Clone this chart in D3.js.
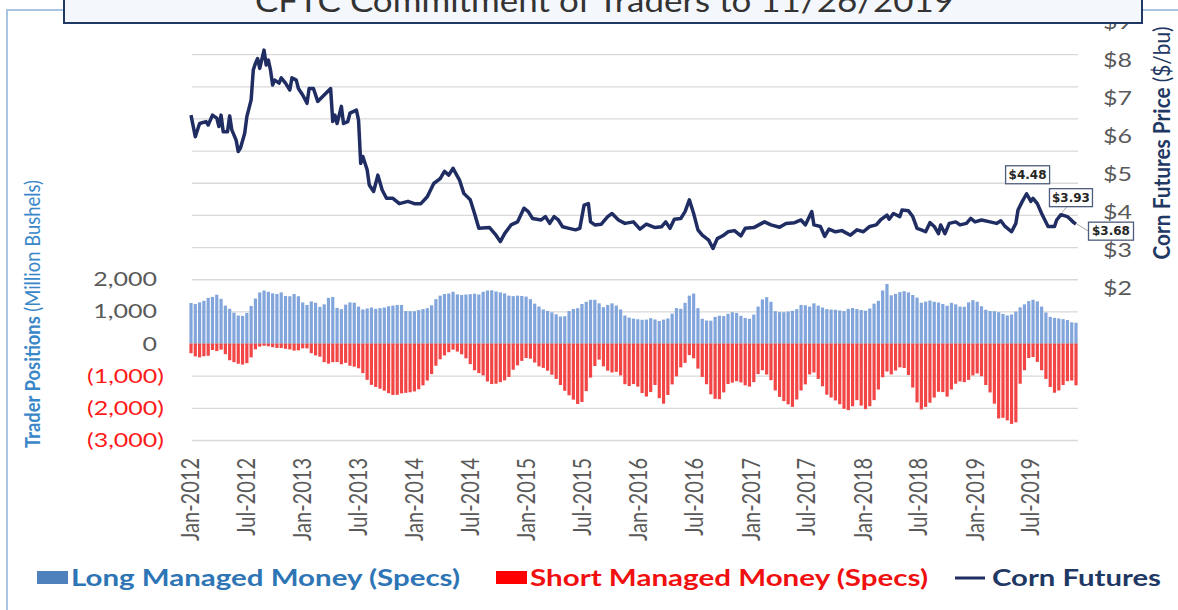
<!DOCTYPE html>
<html>
<head>
<meta charset="utf-8">
<script src="https://cdn.jsdelivr.net/npm/d3@7"></script>
<style>
  body { margin: 0; background: #fff; }
  svg { display: block; font-family: Lato, "Open Sans", sans-serif; }
</style>
</head>
<body>
<svg width="1178" height="610"></svg>
<script>
// ---- data ----
const title = "CFTC Commitment of Traders to 11/26/2019";
const firstReport = "2012-01-03";   // bars: one every 2 weeks from here
const lastReport = "2019-11-26";

// managed money long / short, million bushels
const longMM = [1260,1230,1280,1330,1420,1450,1520,1390,1180,1080,
  960,870,860,950,1170,1400,1590,1650,1610,1560,
  1540,1590,1480,1470,1540,1470,1280,1200,1310,1270,
  1140,1220,1420,1450,1110,1070,1210,1280,1270,1150,
  1060,1090,1120,1080,1100,1120,1160,1180,1200,1200,
  1010,1005,1005,1040,1070,1100,1190,1380,1490,1540,
  1555,1610,1530,1510,1524,1535,1550,1524,1610,1650,
  1655,1620,1590,1560,1490,1475,1490,1480,1460,1380,
  1240,1150,1060,1015,970,910,840,850,1010,1075,
  1100,1230,1300,1360,1360,1250,1130,1200,1250,1180,
  1060,870,805,775,755,740,745,790,750,700,
  745,780,930,1100,1080,1266,1490,1555,1100,770,
  715,710,830,865,855,925,974,950,860,797,
  770,900,1150,1370,1440,1300,1005,976,974,995,
  1020,1070,1200,1190,1150,1250,1180,1120,1070,1057,
  1050,1030,1010,1078,1105,1070,1045,1020,1090,1240,
  1330,1650,1850,1500,1545,1600,1627,1590,1510,1430,
  1270,1305,1337,1300,1275,1230,1175,1266,1220,1150,
  1145,1280,1350,1300,1160,1050,1010,1005,975,920,
  875,905,995,1125,1220,1320,1360,1310,1150,965,
  830,798,780,760,730,660,645];

const shortMM = [-300,-400,-430,-394,-380,-200,-235,-190,-330,-520,
  -580,-630,-653,-610,-430,-180,-95,-70,-85,-115,
  -135,-140,-165,-183,-220,-210,-150,-150,-300,-370,
  -410,-580,-625,-580,-575,-645,-601,-690,-720,-770,
  -920,-1130,-1285,-1350,-1405,-1465,-1545,-1600,-1595,-1550,
  -1533,-1515,-1490,-1420,-1300,-1150,-950,-690,-490,-370,
  -270,-190,-250,-335,-460,-640,-830,-920,-990,-1180,
  -1260,-1250,-1200,-1145,-1040,-815,-680,-540,-450,-470,
  -590,-710,-757,-845,-970,-1100,-1290,-1470,-1610,-1745,
  -1880,-1820,-1480,-1060,-700,-500,-710,-845,-900,-880,
  -990,-1265,-1320,-1260,-1340,-1540,-1650,-1510,-1290,-1700,
  -1870,-1600,-1270,-1020,-740,-601,-360,-460,-780,-1040,
  -1265,-1580,-1720,-1730,-1520,-1260,-1215,-1172,-1210,-1300,
  -1340,-1200,-950,-830,-964,-1140,-1460,-1660,-1790,-1890,
  -1970,-1740,-1460,-1270,-960,-900,-1100,-1330,-1590,-1680,
  -1770,-1890,-2030,-2070,-1950,-1760,-1930,-2040,-1950,-1760,
  -1430,-1050,-870,-960,-840,-740,-760,-980,-1370,-1830,
  -2050,-1970,-1840,-1680,-1500,-1510,-1650,-1430,-1250,-1180,
  -1200,-1130,-990,-930,-1016,-1290,-1520,-1870,-2330,-2310,
  -2390,-2500,-2450,-1250,-830,-450,-420,-570,-830,-1100,
  -1350,-1530,-1460,-1290,-1170,-1150,-1300];

// corn futures, $/bu: weeks after firstReport and price
const priceWeek = [0,2,4,7,8,10,12,13,14,15,17,18,19,21,22,23,25,26,28,29,
  30,31,32,34,35,36,37,38,39,41,42,44,46,47,49,50,52,54,55,57,
  59,62,65,66,67,68,70,71,73,74,77,78,79,80,82,83,85,87,89,91,
  94,97,101,104,107,110,113,116,118,120,122,125,127,130,132,134,139,142,144,146,
  149,152,155,157,159,163,165,167,169,171,173,176,179,181,183,185,186,188,191,194,
  196,199,202,206,209,212,216,219,221,223,225,228,230,232,234,236,238,241,243,245,
  248,250,253,256,258,262,265,267,270,274,277,281,284,286,289,290,293,295,297,300,
  303,307,310,313,316,319,321,324,325,327,330,331,334,336,338,340,342,344,346,348,
  349,351,353,356,358,361,363,365,368,372,375,377,379,382,384,385,387,389,391,392,
  394,396,399,402,403,405,408,411,412];
const priceValue = [6.55,5.98,6.33,6.38,6.29,6.55,6.47,6.25,6.55,6.11,6.11,6.53,6.16,5.89,5.59,5.68,6.07,6.51,6.95,7.74,
  7.91,8.04,7.78,8.26,7.87,8.00,7.74,7.34,7.47,7.39,7.53,7.39,7.21,7.53,7.47,7.25,7.08,6.86,7.25,7.25,
  6.91,7.08,7.25,6.38,6.55,6.33,6.78,6.33,6.38,6.60,6.68,6.42,5.28,5.46,5.11,4.71,4.54,4.97,4.58,4.36,
  4.36,4.22,4.28,4.22,4.22,4.40,4.75,4.88,5.07,4.97,5.15,4.84,4.49,4.32,3.96,3.57,3.59,3.39,3.22,3.43,
  3.66,3.74,4.10,4.01,3.83,3.79,3.88,3.70,3.88,3.79,3.61,3.57,3.53,3.57,4.18,4.22,3.74,3.66,3.68,3.88,
  3.96,3.79,3.70,3.74,3.55,3.68,3.59,3.61,3.74,3.57,3.81,3.83,4.01,4.32,3.96,3.53,3.39,3.26,3.04,3.30,
  3.39,3.48,3.51,3.37,3.57,3.59,3.68,3.74,3.66,3.60,3.70,3.72,3.79,3.66,4.01,3.66,3.62,3.36,3.55,3.48,
  3.51,3.39,3.53,3.48,3.62,3.66,3.79,3.92,3.81,3.96,3.88,4.05,4.03,3.88,3.57,3.53,3.48,3.72,3.62,3.43,
  3.66,3.43,3.70,3.74,3.66,3.70,3.83,3.74,3.79,3.74,3.70,3.77,3.62,3.48,3.70,4.05,4.28,4.48,4.28,4.36,
  4.22,3.96,3.62,3.62,3.79,3.93,3.88,3.72,3.68];

const noteWeek = [389, 405, 412];
const noteText = ["$4.48", "$3.93", "$3.68"];

const positionTicks = [-3000, -2000, -1000, 0, 1000, 2000];
const priceTicks = [2, 3, 4, 5, 6, 7, 8, 9];

// ---- layout ----
const svg = d3.select("svg");
const SX = 1.25;   // the picture is stretched sideways
const gray = "#595959", navy = "#1f2d63";

const parse = d3.timeParse("%Y-%m-%d");
const start = parse(firstReport);
const x = d3.scaleTime().domain([start, parse(lastReport)]).range([191, 1076]);
const yPos = d3.scaleLinear().domain([-3000, 10000]).range([440, 22]);
const yPrice = d3.scaleLinear().domain([-2, 9]).range([440, 22]);

// outer frame
svg.append("rect").attr("x", 7).attr("y", 10).attr("width", 1190).attr("height", 640)
  .attr("fill", "none").attr("stroke", "#a9c5e3").attr("stroke-width", 2);

// gridlines from the positions axis
svg.append("g")
  .attr("transform", "translate(192,0)")
  .call(d3.axisLeft(yPos).tickValues(d3.range(-3000, 10001, 1000)).tickSize(-886).tickFormat(""))
  .call(g => g.select(".domain").remove())
  .call(g => g.selectAll("line").attr("stroke", "#d9d9d9").attr("stroke-width", 1.3));

// bars
const bars = longMM.map((v, i) => ({ date: d3.timeDay.offset(start, 14 * i), long: v, short: shortMM[i] }));
const bw = 3.2;
svg.append("g").selectAll("rect").data(bars).join("rect")
  .attr("x", d => x(d.date) - bw / 2).attr("width", bw)
  .attr("y", d => yPos(d.long)).attr("height", d => yPos(0) - yPos(d.long))
  .attr("fill", "#82a6dc");
svg.append("g").selectAll("rect").data(bars).join("rect")
  .attr("x", d => x(d.date) - bw / 2).attr("width", bw)
  .attr("y", yPos(0)).attr("height", d => yPos(d.short) - yPos(0))
  .attr("fill", "#f24646");

// price line
const prices = priceWeek.map((w, i) => ({ date: d3.timeDay.offset(start, 7 * w), v: priceValue[i] }));
svg.append("path").datum(prices)
  .attr("fill", "none").attr("stroke", navy).attr("stroke-width", 3.5)
  .attr("stroke-linejoin", "round")
  .attr("d", d3.line().x(d => x(d.date)).y(d => yPrice(d.v)));

// left tick labels
const fmt = d3.format(",");
svg.append("g").selectAll("text").data(positionTicks).join("text")
  .attr("transform", d => `translate(${d < 0 ? 164 : 157},${yPos(d)}) scale(${SX},1)`)
  .attr("dy", "0.35em").attr("text-anchor", "end")
  .attr("font-size", 20).attr("fill", d => d < 0 ? "#ff1a1a" : gray)
  .text(d => d < 0 ? `(${fmt(-d)})` : fmt(d));

// right tick labels
svg.append("g").selectAll("text").data(priceTicks).join("text")
  .attr("transform", d => `translate(1103,${yPrice(d)}) scale(${SX},1)`)
  .attr("dy", "0.35em").attr("font-size", 20).attr("fill", gray)
  .text(d => "$" + d);

// x tick labels, Jan and Jul
const months = d3.timeMonth.every(6).range(parse("2012-01-01"), parse("2019-12-01"));
const fmtDate = d3.timeFormat("%b-%Y");
svg.append("g").selectAll("text").data(months).join("text")
  .attr("transform", d => `translate(${x(d)},458) scale(${SX},1) rotate(-90)`)
  .attr("dy", "0.35em").attr("text-anchor", "end")
  .attr("font-size", 20).attr("fill", gray)
  .text(fmtDate);

// axis titles
const lt = svg.append("text")
  .attr("transform", `translate(40,314) scale(${SX},1) rotate(-90)`)
  .attr("text-anchor", "middle").attr("font-size", 17).attr("fill", "#3a87c8")
  .attr("textLength", 268).attr("lengthAdjust", "spacingAndGlyphs");
lt.append("tspan").attr("font-weight", "bold").text("Trader Positions ");
lt.append("tspan").text("(Million Bushels)");

const rt = svg.append("text")
  .attr("transform", `translate(1170,143) scale(${SX},1) rotate(-90)`)
  .attr("text-anchor", "middle").attr("font-size", 19).attr("fill", "#1f3864")
  .attr("textLength", 233).attr("lengthAdjust", "spacingAndGlyphs");
rt.append("tspan").attr("font-weight", "bold").text("Corn Futures Price ");
rt.append("tspan").text("($/bu)");

// price call-outs
const noteOffset = [[1, -19, 44], [10, -17, 43], [35, 7, 45]];
noteWeek.forEach((w, i) => {
  const px = x(d3.timeDay.offset(start, 7 * w));
  const py = yPrice(priceValue[priceWeek.indexOf(w)]);
  const [dx, dy, bwid] = noteOffset[i];
  const cx = px + dx, cy = py + dy;
  const g = svg.append("g");
  if (i === 1) g.append("line").attr("x1", cx - 4).attr("y1", cy + 9).attr("x2", px + 1).attr("y2", py - 2)
    .attr("stroke", "#a6a6a6").attr("stroke-width", 1);
  if (i === 2) g.append("line").attr("x1", px + 1).attr("y1", py).attr("x2", cx - bwid / 2).attr("y2", cy)
    .attr("stroke", "#a6a6a6").attr("stroke-width", 1);
  g.append("rect").attr("x", cx - bwid / 2).attr("y", cy - 9).attr("width", bwid).attr("height", 18)
    .attr("fill", "#fff").attr("stroke", "#4d5b7c").attr("stroke-width", 1.3);
  g.append("text").attr("x", cx).attr("y", cy).attr("dy", "0.36em").attr("text-anchor", "middle")
    .attr("font-family", "DejaVu Sans").attr("font-weight", "bold").attr("font-size", 12)
    .attr("fill", "#262626").text(noteText[i]);
});

// title box (covers the top of the $9 label)
svg.append("rect").attr("x", 64).attr("y", -4).attr("width", 1078).attr("height", 27)
  .attr("fill", "#f4f7fc").attr("stroke", "#1f3864").attr("stroke-width", 2);
svg.append("text").attr("x", 255).attr("y", 12)
  .attr("font-size", 30).attr("fill", "#333")
  .attr("textLength", 699).attr("lengthAdjust", "spacingAndGlyphs")
  .text(title);

// legend
const lg = svg.append("g").attr("font-size", 22).attr("font-weight", "bold");
lg.append("rect").attr("x", 37).attr("y", 571).attr("width", 31).attr("height", 13).attr("fill", "#4f81bd");
lg.append("text").attr("x", 71).attr("y", 586).attr("fill", "#2e75b6")
  .attr("textLength", 389).attr("lengthAdjust", "spacingAndGlyphs").text("Long Managed Money (Specs)");
lg.append("rect").attr("x", 496).attr("y", 571).attr("width", 31).attr("height", 13).attr("fill", "#ff0000");
lg.append("text").attr("x", 530).attr("y", 586).attr("fill", "#f01010")
  .attr("textLength", 398).attr("lengthAdjust", "spacingAndGlyphs").text("Short Managed Money (Specs)");
lg.append("line").attr("x1", 955).attr("x2", 985).attr("y1", 578).attr("y2", 578)
  .attr("stroke", navy).attr("stroke-width", 3);
lg.append("text").attr("x", 992).attr("y", 586).attr("fill", "#1f3864")
  .attr("textLength", 169).attr("lengthAdjust", "spacingAndGlyphs").text("Corn Futures");
</script>
</body>
</html>
